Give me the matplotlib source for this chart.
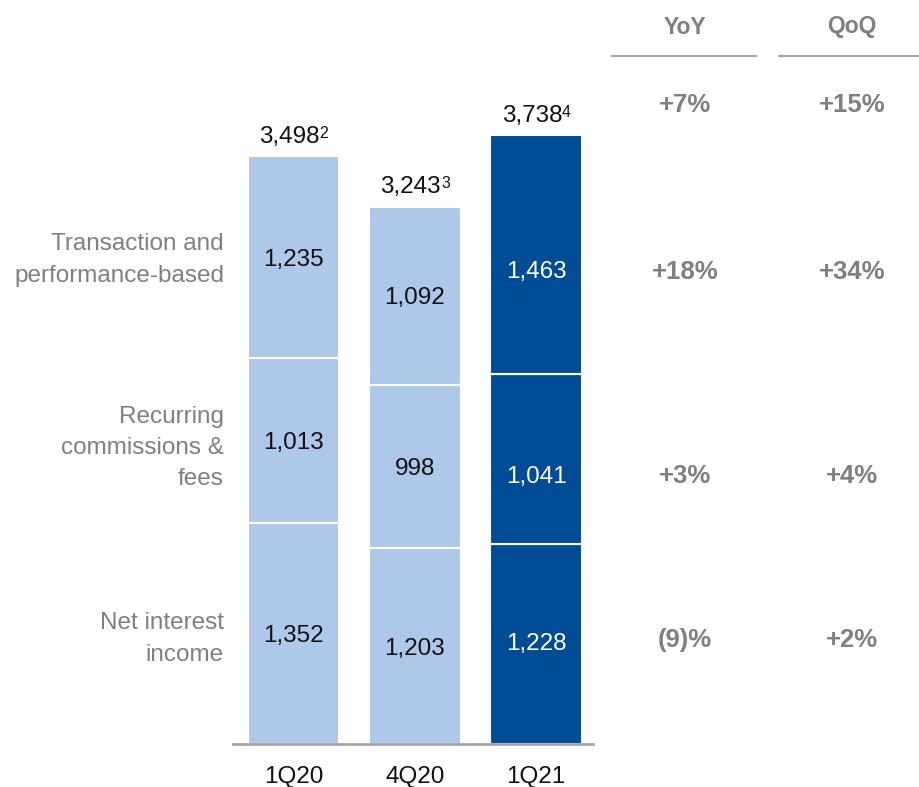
import matplotlib.pyplot as plt

plt.rcParams['font.family'] = ['Liberation Sans', 'DejaVu Sans']

# Data
quarters = ['1Q20', '4Q20', '1Q21']
net_interest = [1352, 1203, 1228]
recurring = [1013, 998, 1041]
transaction = [1235, 1092, 1463]
totals = ['3,498', '3,243', '3,738']
footnotes = ['2', '3', '4']
segment_names = ['Net interest\nincome', 'Recurring\ncommissions &\nfees',
                 'Transaction and\nperformance-based']
yoy = ['(9)%', '+3%', '+18%', '+7%']
qoq = ['+2%', '+4%', '+34%', '+15%']

light = '#adc8e8'
dark = '#004c95'
grey = '#808080'
colors = [light, light, dark]
txt_colors = ['#111111', '#111111', 'white']
# label nudge (points, downward) for the 1Q21 column, per segment
nudge = [[0, 0, -2], [0, 0, 11], [0, 0, 11]]

W, H = 920, 787
fig = plt.figure(figsize=(W / 100, H / 100), dpi=100)

# bar axes: baseline at 744 px, scale ~0.1632 px per unit
base_px = 744
scale = 0.1632
ax = fig.add_axes([233 / W, (H - base_px) / H, 360 / W, base_px / H])
ax.set_ylim(0, base_px / scale)
ax.set_xlim(-0.5, 2.47)
for s in ['top', 'right', 'left']:
    ax.spines[s].set_visible(False)
ax.spines['bottom'].set_color('#a6a6a6')
ax.spines['bottom'].set_linewidth(2)
ax.set_yticks([])
ax.set_xticks(range(3))
ax.set_xticklabels(quarters, fontsize=17.5, color='#111111')
ax.tick_params(axis='x', length=0, pad=16)

x = list(range(3))
bottom = [0, 0, 0]
for k, seg in enumerate([net_interest, recurring, transaction]):
    ax.bar(x, seg, bottom=bottom, width=0.757, color=colors,
           edgecolor='white', linewidth=1.5)
    for i, v in enumerate(seg):
        ax.annotate(f'{v:,}', xy=(x[i], bottom[i] + v / 2),
                    xytext=(0, -2 - nudge[k][i]), textcoords='offset points',
                    ha='center', va='center', fontsize=17.5, color=txt_colors[i])
    bottom = [b + v for b, v in zip(bottom, seg)]

for i in range(3):
    t = ax.annotate(totals[i], xy=(x[i], bottom[i]), xytext=(-3, 6),
                    textcoords='offset points', ha='center', va='bottom',
                    fontsize=17.5, color='#111111')
    ax.annotate(footnotes[i], xy=(1, 1.0), xycoords=t, ha='left', va='top',
                fontsize=11.5, color='#111111')

# left segment labels
label_y = [639, 448, 260]
for name, yp in zip(segment_names, label_y):
    fig.text(224 / W, 1 - yp / H, name, ha='right', va='center', fontsize=17.5,
             color=grey, linespacing=1.55)

# right columns
cols = [(685, 612, 756, 'YoY', yoy), (852, 779, 920, 'QoQ', qoq)]
row_y = [640, 476, 272, 105]
for cx, x0, x1, head, vals in cols:
    fig.text(cx / W, 1 - 27 / H, head, ha='center', va='center', fontsize=16.5,
             fontweight='bold', color=grey)
    fig.add_artist(plt.Line2D([x0 / W, x1 / W], [1 - 56 / H, 1 - 56 / H],
                              color='#a6a6a6', linewidth=1.5))
    for v, yp in zip(vals, row_y):
        fig.text(cx / W, 1 - yp / H, v, ha='center', va='center', fontsize=18.5,
                 fontweight='bold', color=grey)

fig.savefig('out.png', dpi=100)
